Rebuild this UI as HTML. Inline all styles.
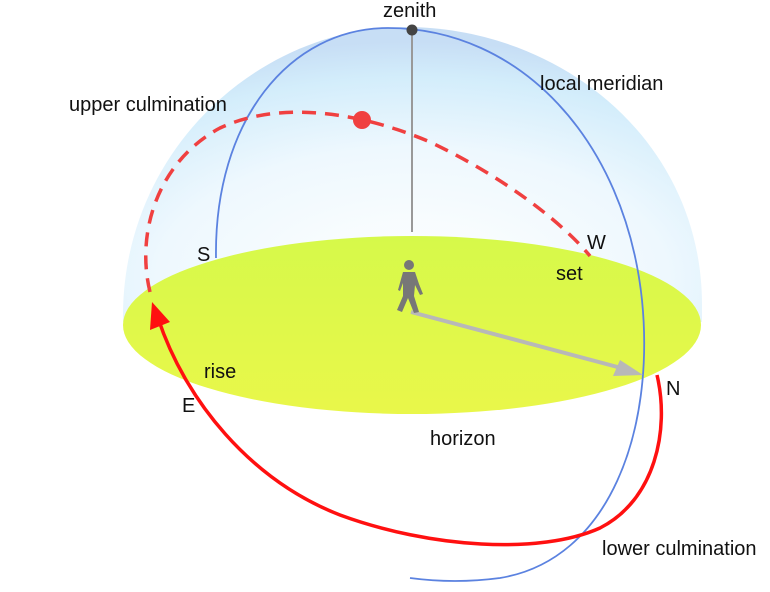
<!DOCTYPE html>
<html><head><meta charset="utf-8"><style>
body{margin:0;background:#fff;}
svg{display:block;}
text{font-family:"Liberation Sans",sans-serif;font-size:20px;fill:#111;}
</style></head><body>
<svg width="770" height="592" viewBox="0 0 770 592">
<defs>
<radialGradient id="dome" cx="0.5" cy="0.85" r="0.8">
<stop offset="0" stop-color="#ffffff"/>
<stop offset="0.55" stop-color="#eef8fe"/>
<stop offset="0.85" stop-color="#d3edfb"/>
<stop offset="1" stop-color="#c7def5"/>
</radialGradient>
<linearGradient id="hor" x1="0" y1="0" x2="0" y2="1">
<stop offset="0" stop-color="#d6f94a"/>
<stop offset="1" stop-color="#e9f74a"/>
</linearGradient>
</defs>
<path d="M123,322 C120,150 260,27 405,27 C560,27 702,140 702,305 L702,322 Z" fill="url(#dome)"/>
<ellipse cx="412" cy="325" rx="289" ry="89" fill="url(#hor)"/>
<path d="M216,258 C214,120 290,28 388,28 C520,28 625,140 642,300 C655,430 610,560 500,578 C470,582 440,582 410,578" fill="none" stroke="#5b82e0" stroke-width="1.8"/>
<line x1="412" y1="30" x2="412" y2="232" stroke="#999" stroke-width="2"/>
<circle cx="412" cy="30" r="5.5" fill="#444"/>
<path d="M150,292 C135,230 160,160 220,128 C280,100 360,112 430,142 C500,175 560,220 590,256" fill="none" stroke="#f04040" stroke-width="3.5" stroke-dasharray="14,9"/>
<circle cx="362" cy="120" r="9" fill="#f04040"/>
<path d="M657,375 C670,430 655,500 600,528 C540,555 430,548 340,515 C250,480 185,400 158,318" fill="none" stroke="#ff1010" stroke-width="3.5"/>
<polygon points="152,302 150,330 170,322" fill="#ff1010"/>
<line x1="411" y1="312" x2="625" y2="369" stroke="#b8b8b8" stroke-width="4"/>
<polygon points="643,375 613,376 620,360" fill="#b8b8b8"/>
<g fill="#777">
<circle cx="409" cy="265" r="5"/>
<path d="M403,272 L415,272 L419,284 L423,294 L420,295 L415,285 L414,296 L419,312 L414,313 L408,298 L402,312 L397,310 L403,296 L403,283 L400,291 L398,290 Z"/>
</g>
<text x="383" y="17">zenith</text>
<text x="540" y="90">local meridian</text>
<text x="69" y="111">upper culmination</text>
<text x="197" y="261">S</text>
<text x="587" y="249">W</text>
<text x="556" y="280">set</text>
<text x="204" y="378">rise</text>
<text x="182" y="412">E</text>
<text x="430" y="445">horizon</text>
<text x="666" y="395">N</text>
<text x="602" y="555">lower culmination</text>
</svg>
</body></html>
